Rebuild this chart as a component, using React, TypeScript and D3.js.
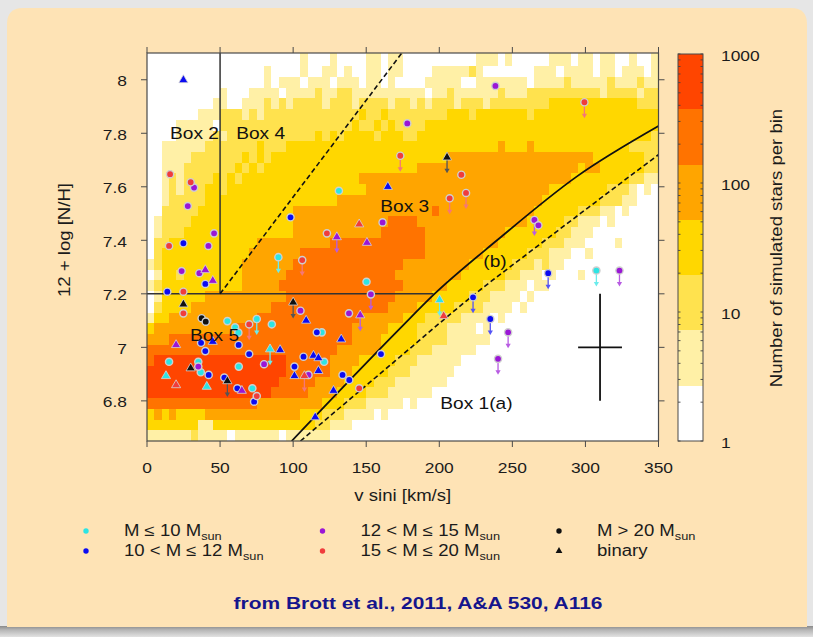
import React from 'react';
import * as d3 from 'd3';

const WIDTH = 813;
const HEIGHT = 637;
const FONT = "'Liberation Sans', Arial, Helvetica, sans-serif";
const STRETCH = 1.16;

// axes
const vsiniExtent = [0, 350];
const nitrogenExtent = [6.65, 8.1];
const xTickValues = [0, 50, 100, 150, 200, 250, 300, 350];
const yTickValues = [6.8, 7.0, 7.2, 7.4, 7.6, 7.8, 8.0];
const yTickLabels = ['6.8', '7', '7.2', '7.4', '7.6', '7.8', '8'];
const colorbarLabels = [1, 10, 100, 1000];

// simulated population histogram: 5 km/s x 0.04 dex bins, top row first
const binWidthV = 5;
const binHeightN = 0.04;
const binOriginN = 6.65;
const bandEdges = [1, 2.68, 7.2, 19.3, 51.8, 139, 373, 1000];
const bandColors = ['#FFFFFF', '#FFF0A6', '#FFE24E', '#FFD700', '#FFA500', '#FF7300', '#FF4500'];
const levelCounts = [0, 4, 11, 30, 85, 230, 620];
const densityRows = [
  '0000000000 0000000000 0100010000 1101100000 0000011101 0000011101 1011001001',
  '0000000000 0000001000 0100110100 1101100001 1111210000 0001110111 1011011101',
  '0000000000 0000001011 1011101110 1101000011 1110011111 1101111211 1112111211',
  '0000000000 1000111101 1112112211 1111111101 1211111121 1122222222 2212222122',
  '0000000001 1001112121 2222122212 2221221212 2212221222 2222233333 3333333222',
  '0000000111 2221212222 2222222223 2232222222 2333233333 3323333333 3333333333',
  '0000111110 2222222222 2222222232 2323222233 3333333333 3333333333 3333333333',
  '0000111112 1222222222 2223232333 3233322333 3333333333 3333333333 3333333332',
  '0011111122 2222232223 3333333333 3333333333 3333333343 3343333333 3333332222',
  '0011112222 2223232333 3333333333 3333333333 3444444444 4444444444 4333333322',
  '0011122222 2232323333 3333333333 3333333444 4444444444 4444444443 4433333322',
  '0012122223 2323333333 3333333334 4444444444 4444444444 4444444433 3333332211',
  '0012122233 2333333333 3333333333 4444444444 4444444444 4444433333 3332221010',
  '0012222233 3333333333 3333334444 4444444444 4444444444 4444333333 3322211000',
  '0022222333 3333333333 4444444444 4444444445 4444444444 4443333332 2211010000',
  '0122223333 3333333333 4444444444 4445555444 4444444444 4433333221 1101000000',
  '0122233333 3333333333 4444444444 4455555544 4444444443 3333332211 1000000000',
  '0223333333 3333344444 4444455555 5555555544 4444444433 3333222111 0000100000',
  '0233333333 3333444444 4555555555 5555555544 4444443333 3322211100 1000000000',
  '1233333333 3334444444 5555555555 5555544444 4444333333 2221211000 0000000000',
  '0133233333 3334444445 5555555555 5555444444 4443333332 2111010001 0000000000',
  '1233333333 3334444455 5555555555 5555544444 4333332221 1101100000 0000000000',
  '0133333344 4444444445 5555555555 5555444443 3333222111 1010000000 0000000000',
  '0233334444 4444444555 5555555555 5554444333 3322221111 0100000000 0000000000',
  '1334444444 4444455555 5555555554 4444433322 2221111010 0000000000 0000000000',
  '3444444444 4455555555 5555555544 4443333222 2111101000 0000000000 0000000000',
  '4445555555 5555555555 5555555544 4433333222 2111111000 0000000000 0000000000',
  '5555555555 5555555555 5555554444 4433332221 1111100000 0000000000 0000000000',
  '5666666666 6666666665 5555544443 3333222111 1110000000 0000000000 0000000000',
  '6666666666 6666666665 5555544433 3332221111 1100000000 0000000000 0000000000',
  '6666666666 6666666655 5554444333 3222111111 1000000000 0000000000 0000000000',
  '6666666666 6666666555 5544443333 2221111110 0000000000 0000000000 0000000000',
  '5555555555 5555544444 4444333222 1111101000 0000000000 0000000000 0000000000',
  '3434333344 4444444444 4333222111 1010000000 0000000000 0000000000 0000000000',
  '3333333113 3333333333 3332211100 0000000000 0000000000 0000000000 0000000000',
  '1111112111 1011111101 1111100000 0000000000 0000000000 0000000000 0000000000',
];

// box boundaries
const box3Divider = [[50, 7.2], [174.4, 8.1]];
const box2Edge = [[50, 7.2], [50, 8.1]];
const box5Edge = [[0, 7.2], [196, 7.2]];
const curveA = [[105, 6.65], [170, 6.95], [220, 7.18], [270, 7.39], [350, 7.72]];
const curveB = [[99, 6.65], [173, 7.07], [196, 7.196], [239.5, 7.4], [294, 7.638], [350, 7.827]];
const errorCross = { v: 310, n: 7.0, dv: 15, dn: 0.2 };
const boxLabels = [
  { text: 'Box 2', v: 15.8, n: 7.779 },
  { text: 'Box 4', v: 61.0, n: 7.779 },
  { text: 'Box 3', v: 159.6, n: 7.506 },
  { text: '(b)', v: 230.1, n: 7.3 },
  { text: 'Box 5', v: 29.5, n: 7.024 },
  { text: 'Box 1(a)', v: 200.7, n: 6.77 },
];

// observed stars: [v sini, 12 + log N/H, 'o' single | '^' binary, upper limit]
const cyanStars = [
  [131.3, 7.585, 'o', 0], [89.9, 7.337, 'o', 1], [150.2, 7.245, 'o', 0], [55.0, 7.098, 'o', 0],
  [60.3, 7.075, 'o', 0], [62.5, 7.055, 'o', 0], [75.1, 7.106, 'o', 1], [85.4, 7.086, 'o', 0],
  [119.6, 7.056, 'o', 0], [121.2, 6.946, 'o', 0], [15.1, 6.946, 'o', 0], [35.1, 6.946, 'o', 0],
  [36.8, 6.907, 'o', 0], [62.8, 6.928, 'o', 0], [72.1, 6.847, 'o', 0], [307.5, 7.287, 'o', 1],
  [84.2, 6.993, '^', 1], [13.0, 6.893, '^', 0], [40.9, 6.853, '^', 0], [200.2, 7.177, '^', 1],
];
const blueStars = [
  [24.9, 7.999, '^', 0], [24.9, 7.389, 'o', 0], [98.2, 7.486, 'o', 0], [164.8, 7.6, '^', 0],
  [39.9, 7.237, 'o', 0], [13.9, 7.208, 'o', 0], [108.9, 7.1, '^', 0], [116.2, 7.056, 'o', 0],
  [132.9, 7.03, '^', 0], [37.0, 7.017, 'o', 0], [45.0, 7.021, '^', 0], [39.9, 6.986, 'o', 0],
  [62.7, 7.009, 'o', 0], [69.9, 6.975, 'o', 0], [91.1, 6.99, '^', 0], [107.1, 6.965, 'o', 0],
  [113.9, 6.969, '^', 0], [117.3, 6.96, '^', 0], [117.3, 6.912, '^', 0], [100.9, 6.928, 'o', 0],
  [100.9, 6.893, '^', 0], [133.8, 6.897, 'o', 0], [138.4, 6.878, 'o', 0], [127.6, 6.838, '^', 0],
  [160.1, 6.975, 'o', 0], [115.1, 6.739, '^', 0], [42.2, 6.897, 'o', 0], [52.9, 6.887, 'o', 0],
  [61.8, 6.847, 'o', 0], [73.3, 6.797, 'o', 0], [223.1, 7.187, 'o', 1], [274.5, 7.277, 'o', 1],
  [234.9, 7.106, 'o', 1],
];
const purpleStars = [
  [32.2, 7.597, 'o', 0], [27.9, 7.528, 'o', 0], [45.9, 7.426, 'o', 0], [42.0, 7.379, 'o', 0],
  [23.7, 7.285, 'o', 0], [35.8, 7.277, 'o', 0], [39.9, 7.289, '^', 0], [45.0, 7.249, '^', 0],
  [161.2, 7.467, 'o', 0], [129.9, 7.412, '^', 1], [150.5, 7.391, '^', 0], [238.4, 7.977, 'o', 0],
  [178.1, 7.837, 'o', 0], [265.1, 7.476, 'o', 1], [267.8, 7.456, 'o', 0], [153.2, 7.198, 'o', 1],
  [105.0, 7.137, 'o', 0], [138.2, 7.127, 'o', 0], [145.9, 7.12, '^', 1], [19.9, 7.009, '^', 0],
  [35.1, 6.928, 'o', 0], [80.1, 6.937, 'o', 0], [110.5, 6.897, 'o', 0], [64.9, 6.838, '^', 0],
  [323.3, 7.287, 'o', 1], [247.1, 7.056, 'o', 1], [240.2, 6.957, 'o', 1],
];
const redStars = [
  [15.8, 7.647, 'o', 0], [29.9, 7.617, 'o', 0], [15.1, 7.379, 'o', 0], [123.1, 7.426, 'o', 0],
  [145.2, 7.46, '^', 0], [173.3, 7.716, 'o', 1], [299.3, 7.916, 'o', 1], [215.1, 7.645, 'o', 0],
  [207.1, 7.557, 'o', 1], [218.3, 7.577, 'o', 1], [24.9, 7.208, 'o', 0], [24.9, 7.127, 'o', 0],
  [106.2, 7.326, 'o', 1], [69.9, 7.086, 'o', 1], [107.7, 6.893, '^', 1], [145.2, 6.847, 'o', 0],
  [19.9, 6.859, '^', 0], [75.1, 6.818, 'o', 0], [203.0, 7.117, '^', 0],
];
const blackStars = [
  [205.3, 7.71, '^', 1], [24.9, 7.161, '^', 0], [37.4, 7.109, 'o', 0], [40.2, 7.096, 'o', 0],
  [100.0, 7.168, '^', 1], [29.9, 6.922, '^', 0], [55.0, 6.874, '^', 1],
];

const CYAN = '#2CE4E4';
const BLUE = '#0B0BF2';
const PURPLE = '#9A16D6';
const RED = '#F03C3C';
const BLACK = '#111111';

const starGroups = [
  { color: CYAN, stars: cyanStars },
  { color: BLUE, stars: blueStars },
  { color: PURPLE, stars: purpleStars },
  { color: RED, stars: redStars },
  { color: BLACK, stars: blackStars },
];

const legendEntries = [
  { label: 'M \u2264 10 M', sub: 'sun', color: CYAN, shape: 'o', col: 0, row: 0 },
  { label: '10 < M \u2264 12 M', sub: 'sun', color: BLUE, shape: 'o', col: 0, row: 1 },
  { label: '12 < M \u2264 15 M', sub: 'sun', color: PURPLE, shape: 'o', col: 1, row: 0 },
  { label: '15 < M \u2264 20 M', sub: 'sun', color: RED, shape: 'o', col: 1, row: 1 },
  { label: 'M > 20 M', sub: 'sun', color: BLACK, shape: 'o', col: 2, row: 0 },
  { label: 'binary', sub: '', color: BLACK, shape: '^', col: 2, row: 1 },
];

function Txt({ x, y, rot = 0, anchor = 'start', size = 16, weight = 'normal', fill = '#1b1b1b', sx = STRETCH, children }: any) {
  return (
    <text
      transform={`translate(${x},${y}) rotate(${rot}) scale(${sx},1)`}
      textAnchor={anchor}
      fontSize={size}
      fontWeight={weight}
      fill={fill}
      fontFamily={FONT}
    >
      {children}
    </text>
  );
}

export default function App() {
  const plot = { left: 147, right: 658.5, top: 53, bottom: 441 };
  const x = d3.scaleLinear().domain(vsiniExtent).range([plot.left, plot.right]);
  const y = d3.scaleLinear().domain(nitrogenExtent).range([plot.bottom, plot.top]);
  const color = d3.scaleThreshold<number, string>().domain(bandEdges.slice(1, -1)).range(bandColors);
  const cb = d3.scaleLog().domain([1, 1000]).range([441, 54]);
  const cbLeft = 678;
  const cbRight = 703;

  const straight = d3.line<number[]>().x((d) => x(d[0])).y((d) => y(d[1]));
  const smooth = d3.line<number[]>().x((d) => x(d[0])).y((d) => y(d[1])).curve(d3.curveMonotoneX);
  const triangle = d3.symbol().type(d3.symbolTriangle).size(36)();
  const legendTriangle = d3.symbol().type(d3.symbolTriangle).size(20)();

  const cells: any[] = [];
  const nRows = densityRows.length;
  densityRows.forEach((rowStr, i) => {
    const row = rowStr.replace(/\s+/g, '');
    const k = nRows - 1 - i;
    const n0 = binOriginN + k * binHeightN;
    const n1 = i === 0 ? nitrogenExtent[1] : n0 + binHeightN;
    for (let j = 0; j < row.length; j++) {
      const count = levelCounts[+row[j]];
      if (!count) continue;
      const v0 = j * binWidthV;
      cells.push(
        <rect
          key={`c${i}-${j}`}
          x={x(v0)}
          y={y(n1)}
          width={x(v0 + binWidthV) - x(v0)}
          height={y(n0) - y(n1)}
          fill={color(count)}
        />
      );
    }
  });

  const markers: any[] = [];
  starGroups.forEach((g, gi) => {
    const arrowColor = g.color === BLACK ? '#555' : d3.interpolateRgb(g.color, '#ffffff')(0.3);
    g.stars.forEach((s: any, si) => {
      const cx = x(s[0]);
      const cy = y(s[1]);
      const key = `m${gi}-${si}`;
      markers.push(
        <g key={key}>
          {s[3] ? (
            <g>
              <line x1={cx} x2={cx} y1={cy} y2={cy + 13} stroke={arrowColor} strokeWidth={1.3} />
              <path d={`M${cx - 2.6},${cy + 11.5}L${cx + 2.6},${cy + 11.5}L${cx},${cy + 16}Z`} fill={arrowColor} />
            </g>
          ) : null}
          {s[2] === 'o' ? (
            <circle cx={cx} cy={cy} r={3.6} fill={g.color} stroke="#cfcfcf" strokeWidth={1.4} />
          ) : (
            <path d={triangle} transform={`translate(${cx},${cy})`} fill={g.color} stroke="#d6d6d6" strokeWidth={0.8} />
          )}
        </g>
      );
    });
  });

  const cbTicks = cb.ticks();
  const frame = '#4a4a4a';
  const legendX = [86, 322.5, 559];
  const legendY = [531, 551];

  return (
    <svg
      width={WIDTH}
      height={HEIGHT}
      viewBox={`0 0 ${WIDTH} ${HEIGHT}`}
      style={{ position: 'absolute', left: 0, top: 0, display: 'block' }}
    >
      <defs>
        <clipPath id="plotClip">
          <rect x={plot.left} y={plot.top} width={plot.right - plot.left} height={plot.bottom - plot.top} />
        </clipPath>
        <linearGradient id="shadow" x1="0" y1="0" x2="0" y2="1">
          <stop offset="0" stopColor="#8a8a8a" />
          <stop offset="0.35" stopColor="#b5b5b5" />
          <stop offset="1" stopColor="#e2e2e2" />
        </linearGradient>
      </defs>

      {/* page and panel */}
      <rect x={0} y={0} width={WIDTH} height={HEIGHT} fill="#e6e6e6" />
      <rect x={0} y={626} width={WIDTH} height={11} fill="url(#shadow)" />
      <path
        d="M7,627 L7,24 Q7,8 23,8 L791,8 Q807,8 807,24 L807,627 Z"
        fill="#FEE3B5"
      />

      {/* plot background and histogram */}
      <rect x={plot.left} y={plot.top} width={plot.right - plot.left} height={plot.bottom - plot.top} fill="#ffffff" />
      <g clipPath="url(#plotClip)" shapeRendering="crispEdges">
        {cells}
      </g>

      {/* box boundaries and model curves */}
      <g clipPath="url(#plotClip)" fill="none">
        <path d={straight(box2Edge) || ''} stroke="#333" strokeWidth={1.5} />
        <path d={straight(box5Edge) || ''} stroke="#333" strokeWidth={1.5} />
        <path d={straight(box3Divider) || ''} stroke="#111" strokeWidth={1.6} strokeDasharray="5,3" />
        <path d={smooth(curveB) || ''} stroke="#111" strokeWidth={1.8} />
        <path d={smooth(curveA) || ''} stroke="#111" strokeWidth={1.6} strokeDasharray="5,3" />
      </g>

      {/* error bar */}
      <g stroke="#111" strokeWidth={1.8}>
        <line x1={x(errorCross.v - errorCross.dv)} x2={x(errorCross.v + errorCross.dv)} y1={y(errorCross.n)} y2={y(errorCross.n)} />
        <line x1={x(errorCross.v)} x2={x(errorCross.v)} y1={y(errorCross.n - errorCross.dn)} y2={y(errorCross.n + errorCross.dn)} />
      </g>

      {/* observed stars */}
      <g clipPath="url(#plotClip)">{markers}</g>

      {/* box labels */}
      {boxLabels.map((b) => (
        <Txt key={b.text} x={x(b.v)} y={y(b.n)} size={16.5} fill="#111">
          {b.text}
        </Txt>
      ))}

      {/* frame and ticks */}
      <rect x={plot.left} y={plot.top} width={plot.right - plot.left} height={plot.bottom - plot.top} fill="none" stroke={frame} strokeWidth={1.2} />
      <g stroke={frame} strokeWidth={1}>
        {xTickValues.map((t) => (
          <g key={`xt${t}`}>
            <line x1={x(t)} x2={x(t)} y1={plot.bottom} y2={plot.bottom + 6} />
            <line x1={x(t)} x2={x(t)} y1={plot.top} y2={plot.top - 6} />
          </g>
        ))}
        {yTickValues.map((t) => (
          <g key={`yt${t}`}>
            <line x1={plot.left} x2={plot.left - 6} y1={y(t)} y2={y(t)} />
            <line x1={plot.right} x2={plot.right + 6} y1={y(t)} y2={y(t)} />
          </g>
        ))}
      </g>
      {xTickValues.map((t) => (
        <Txt key={`xl${t}`} x={x(t)} y={473} anchor="middle" size={15}>
          {String(t)}
        </Txt>
      ))}
      {yTickValues.map((t, i) => (
        <Txt key={`yl${t}`} x={127} y={y(t) + 6.5} anchor="end" size={15}>
          {yTickLabels[i]}
        </Txt>
      ))}
      <Txt x={(plot.left + plot.right) / 2} y={501} anchor="middle">
        v sini [km/s]
      </Txt>
      <Txt x={70} y={240} rot={-90} anchor="middle">
        12 + log [N/H]
      </Txt>

      {/* colour bar */}
      <g shapeRendering="crispEdges">
        {bandColors.map((c, k) => (
          <rect
            key={`band${k}`}
            x={cbLeft}
            y={cb(bandEdges[k + 1])}
            width={cbRight - cbLeft}
            height={cb(bandEdges[k]) - cb(bandEdges[k + 1])}
            fill={color(Math.sqrt(bandEdges[k] * bandEdges[k + 1]))}
          />
        ))}
      </g>
      <g stroke="#444" strokeWidth={0.9}>
        {cbTicks.map((t, i) => (
          <g key={`cbt${i}`}>
            <line x1={cbLeft} x2={cbLeft + 2.5} y1={cb(t)} y2={cb(t)} />
            <line x1={cbRight} x2={cbRight - 2.5} y1={cb(t)} y2={cb(t)} />
          </g>
        ))}
      </g>
      <rect x={cbLeft} y={54} width={cbRight - cbLeft} height={387} fill="none" stroke={frame} strokeWidth={1} />
      {colorbarLabels.map((t) => (
        <Txt key={`cbl${t}`} x={721} y={cb(t) + 7} size={15}>
          {String(t)}
        </Txt>
      ))}
      <Txt x={782} y={248} rot={-90} anchor="middle">
        Number of simulated stars per bin
      </Txt>

      {/* legend */}
      {legendEntries.map((e, i) => {
        const lx = legendX[e.col];
        const ly = legendY[e.row];
        return (
          <g key={`lg${i}`}>
            {e.shape === 'o' ? (
              <circle cx={lx} cy={ly} r={2.7} fill={e.color} />
            ) : (
              <path d={legendTriangle} transform={`translate(${lx},${ly})`} fill={e.color} />
            )}
            <Txt x={lx + 38} y={ly + 5.2}>
              <tspan>{e.label}</tspan>
              {e.sub ? (
                <tspan fontSize={11} dy={3.8}>
                  {e.sub}
                </tspan>
              ) : null}
            </Txt>
          </g>
        );
      })}

      <Txt x={418} y={609} anchor="middle" size={16.5} weight="bold" fill="#15158C" sx={1.27}>
        from Brott et al., 2011, A&amp;A 530, A116
      </Txt>
    </svg>
  );
}
